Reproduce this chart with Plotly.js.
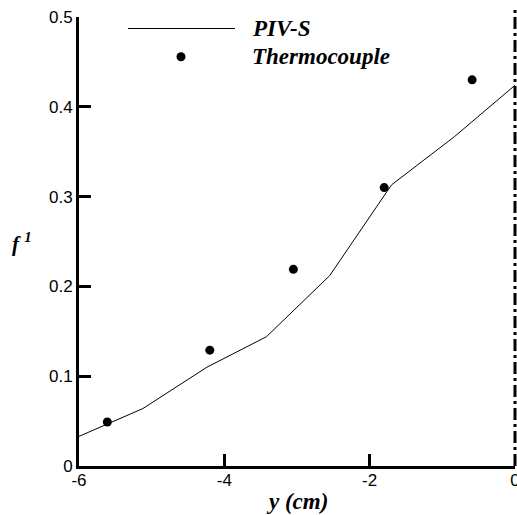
<!DOCTYPE html>
<html>
<head>
<meta charset="utf-8">
<script src="https://cdn.plot.ly/plotly-3.0.1.min.js"></script>
<style>html,body{margin:0;padding:0;background:#fff;}#chart{width:517px;height:515px;}</style>
</head>
<body>
<div id="chart"></div>
<script>
// PIV-S profile
var pivX = [-6, -5.12, -4.24, -3.42, -2.55, -1.70, -0.83, 0];
var pivY = [0.033, 0.064, 0.110, 0.144, 0.212, 0.313, 0.367, 0.424];
// Thermocouple measurements
var tcX = [-5.61, -4.2, -3.05, -1.80, -0.59];
var tcY = [0.049, 0.129, 0.219, 0.310, 0.430];
// Tick labels
var xTickVals = [-6, -4, -2, 0];
var xTickText = ["-6", "-4", "-2", "0"];
var yTickVals = [0, 0.1, 0.2, 0.3, 0.4, 0.5];
var yTickText = ["0", "0.1", "0.2", "0.3", "0.4", "0.5"];
var legendNames = ["PIV-S", "Thermocouple"];

var W = 517, H = 515;
var M = {l: 79, r: 2, t: 17, b: 49};
function px(x) { return (x - M.l) / (W - M.l - M.r); }
function py(y) { return (H - M.b - y) / (H - M.t - M.b); }

var serif = {family: "Liberation Serif, Times New Roman, serif", size: 23, color: "#000", weight: "bold", style: "italic"};
var sans = {family: "Liberation Sans, Arial, sans-serif", size: 17, color: "#000"};

var traces = [
  {x: pivX, y: pivY, type: "scatter", mode: "lines", name: legendNames[0],
   line: {color: "#000", width: 1}, showlegend: false, cliponaxis: false},
  {x: tcX, y: tcY, type: "scatter", mode: "markers", name: legendNames[1],
   marker: {color: "#000", size: 9, symbol: "circle"}, showlegend: false, cliponaxis: false}
];

var layout = {
  width: W, height: H,
  margin: {l: M.l, r: M.r, t: M.t, b: M.b, pad: 0},
  paper_bgcolor: "#fff", plot_bgcolor: "#fff",
  showlegend: false,
  xaxis: {
    range: [-6, 0], tickvals: xTickVals, ticktext: xTickText,
    ticks: "inside", ticklen: 12, tickwidth: 3, tickcolor: "#000",
    showline: true, linewidth: 3, linecolor: "#000",
    showgrid: false, zeroline: false, tickfont: sans, automargin: false,
    ticklabeloverflow: "allow", ticklabelstandoff: -3
  },
  yaxis: {
    range: [0, 0.5], tickvals: yTickVals, ticktext: yTickText,
    ticks: "inside", ticklen: 12, tickwidth: 3, tickcolor: "#000",
    showline: true, linewidth: 3, linecolor: "#000",
    showgrid: false, zeroline: false, tickfont: sans, automargin: false,
    ticklabeloverflow: "allow"
  },
  shapes: [
    // dash-dot reference line at y = 0 cm (right edge)
    {type: "line", xref: "paper", yref: "paper", x0: 1, x1: 1, y0: 0, y1: py(10),
     line: {color: "#000", width: 3, dash: "12px,4px,3px,4px"}},
    // legend line sample
    {type: "line", xref: "paper", yref: "paper", x0: px(128), x1: px(235), y0: py(28.5), y1: py(28.5),
     line: {color: "#000", width: 1}},
    // legend dot sample
    {type: "circle", xref: "paper", yref: "paper", xsizemode: "pixel", ysizemode: "pixel",
     xanchor: px(181), yanchor: py(56.7), x0: -4.5, x1: 4.5, y0: -4.5, y1: 4.5,
     fillcolor: "#000", line: {color: "#000", width: 0}}
  ],
  annotations: [
    {text: legendNames[0], xref: "paper", yref: "paper", x: px(250), y: py(28.5),
     xanchor: "left", yanchor: "middle", showarrow: false, font: serif},
    {text: legendNames[1], xref: "paper", yref: "paper", x: px(250), y: py(57),
     xanchor: "left", yanchor: "middle", showarrow: false, font: serif},
    {text: "y (cm)", xref: "paper", yref: "paper", x: px(297), y: py(501),
     xanchor: "center", yanchor: "middle", showarrow: false, font: serif},
    {text: "f <sup><i>1</i></sup>", xref: "paper", yref: "paper", x: px(10), y: py(242),
     xanchor: "left", yanchor: "middle", showarrow: false,
     font: {family: serif.family, size: 21, color: "#000", weight: "bold", style: "italic"}}
  ]
};

Plotly.newPlot("chart", traces, layout, {displayModeBar: false, staticPlot: true});
</script>
</body>
</html>
